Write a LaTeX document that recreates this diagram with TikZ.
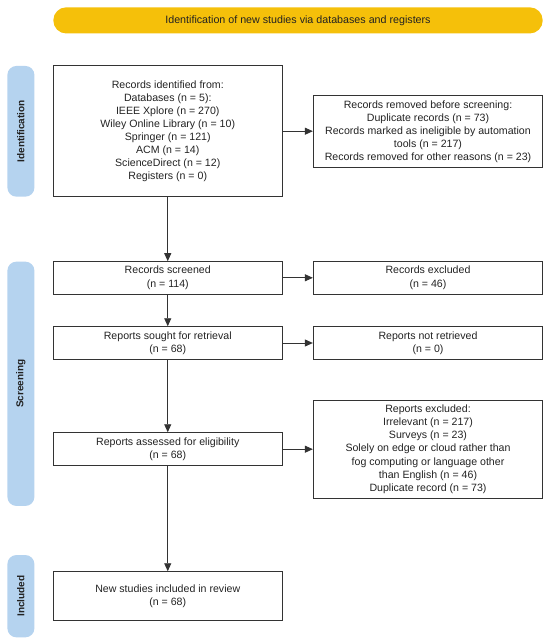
\documentclass[tikz,border=0pt]{standalone}
\usepackage{fontspec}
\setmainfont{Liberation Sans}
\usetikzlibrary{arrows.meta}
\definecolor{banner}{HTML}{F5C00A}
\definecolor{side}{HTML}{B5D3EF}
\definecolor{ink}{HTML}{333333}
\definecolor{txt}{HTML}{222222}
\tikzset{
  box/.style={draw=ink, line width=0.9pt, rectangle, align=center, text=txt, inner sep=2pt,
    font=\fontsize{10.6}{13.1}\selectfont},
  sidebar/.style={fill=side, rounded corners=9pt, minimum height=27pt, text=txt,
    font=\fontsize{10}{12}\selectfont\bfseries, rotate=90},
  arr/.style={draw=ink, line width=0.9pt, -{Triangle[length=8pt,width=7pt]}}
}
\begin{document}
\begin{tikzpicture}[x=1pt,y=-1pt]
\useasboundingbox (0,0) rectangle (550,644);
% banner
\node[fill=banner, rounded corners=13pt, minimum width=489.4pt, minimum height=26.2pt, text=txt,
  font=\fontsize{10.7}{12}\selectfont] (ban) at (298,20.4) {Identification of new studies via databases and registers};
% side bars
\node[sidebar, minimum width=130.7pt] (sid) at (20.9,131.3) {Identification};
\node[sidebar, minimum width=244.3pt] (sscr) at (20.9,383.8) {Screening};
\node[sidebar, minimum width=82.3pt] (sinc) at (20.9,596.2) {Included};
% boxes
\node[box, minimum width=229.5pt, minimum height=130.5pt] (ident) at (167.75,131.2) {Records identified from:\\Databases (n = 5):\\IEEE Xplore (n = 270)\\Wiley Online Library (n = 10)\\Springer (n = 121)\\ACM (n = 14)\\ScienceDirect (n = 12)\\Registers (n = 0)};
\node[box, minimum width=229.4pt, minimum height=71.6pt] (removed) at (428,131.5) {Records removed before screening:\\Duplicate records (n = 73)\\Records marked as ineligible by automation\\tools (n = 217)\\Records removed for other reasons (n = 23)};
\node[box, minimum width=229.5pt, minimum height=32.3pt] (screened) at (167.75,277.8) {Records screened\\(n = 114)};
\node[box, minimum width=229.4pt, minimum height=32.3pt] (excluded) at (428,277.8) {Records excluded\\(n = 46)};
\node[box, minimum width=229.5pt, minimum height=32.6pt] (sought) at (167.75,343) {Reports sought for retrieval\\(n = 68)};
\node[box, minimum width=229.4pt, minimum height=32.6pt] (notret) at (428,343) {Reports not retrieved\\(n = 0)};
\node[box, minimum width=229.5pt, minimum height=33pt] (assessed) at (167.75,449.2) {Reports assessed for eligibility\\(n = 68)};
\node[box, minimum width=229.4pt, minimum height=98.3pt] (repexcl) at (428,449.2) {Reports excluded:\\Irrelevant (n = 217)\\Surveys (n = 23)\\Solely on edge or cloud rather than\\fog computing or language other\\than English (n = 46)\\Duplicate record (n = 73)};
\node[box, minimum width=229.5pt, minimum height=49pt] (incl) at (167.75,596.2) {New studies included in review\\(n = 68)};
% arrows
\draw[arr] (ident.east) -- (removed.west |- ident.east);
\draw[arr] (ident.south) -- (screened.north);
\draw[arr] (screened.east) -- (excluded.west);
\draw[arr] (screened.south) -- (sought.north);
\draw[arr] (sought.east) -- (notret.west);
\draw[arr] (sought.south) -- (assessed.north);
\draw[arr] (assessed.east) -- (repexcl.west |- assessed.east);
\draw[arr] (assessed.south) -- (incl.north);
\end{tikzpicture}
\end{document}
